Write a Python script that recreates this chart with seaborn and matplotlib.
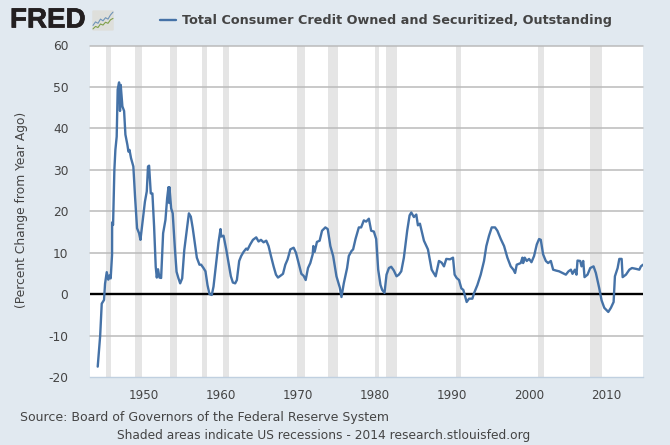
import matplotlib
matplotlib.use("Agg")
import matplotlib.pyplot as plt
import matplotlib.patheffects as pe
from matplotlib.patches import FancyBboxPatch
import pandas as pd
import seaborn as sns

years = [1944.08, 1944.4, 1944.6, 1944.9, 1945.03, 1945.25, 1945.45, 1945.6, 1945.76, 1945.94, 1945.95, 1946.07,
         1946.24, 1946.37, 1946.54, 1946.67, 1946.85, 1946.97, 1947.06, 1947.28, 1947.5, 1947.67, 1947.93, 1948.06,
         1948.2, 1948.4, 1948.7, 1948.92, 1949.18, 1949.44, 1949.62, 1949.92, 1950.2, 1950.44, 1950.6, 1950.74,
         1950.96, 1951.17, 1951.39, 1951.6, 1951.74, 1951.9, 1952.08, 1952.3, 1952.56, 1952.86, 1953.08, 1953.25,
         1953.34, 1953.38, 1953.6, 1953.8, 1954.1, 1954.3, 1954.55, 1954.77, 1955.03, 1955.3, 1955.63, 1955.9,
         1956.15, 1956.4, 1956.7, 1956.93, 1957.27, 1957.49, 1957.79, 1958.05, 1958.31, 1958.57, 1958.87, 1959.09,
         1959.44, 1959.74, 1960.0, 1960.09, 1960.39, 1960.74, 1961.04, 1961.34, 1961.6, 1961.9, 1962.12, 1962.42,
         1962.68, 1962.99, 1963.33, 1963.5, 1963.85, 1964.2, 1964.63, 1964.93, 1965.24, 1965.58, 1965.93, 1966.23,
         1966.54, 1966.88, 1967.19, 1967.45, 1967.75, 1968.1, 1968.4, 1968.7, 1969.05, 1969.48, 1969.78, 1970.13,
         1970.48, 1970.78, 1971.04, 1971.34, 1971.64, 1971.95, 1972.03, 1972.2, 1972.5, 1972.85, 1973.16, 1973.59,
         1973.9, 1974.24, 1974.6, 1975.03, 1975.46, 1975.68, 1975.98, 1976.41, 1976.63, 1976.98, 1977.19, 1977.5,
         1977.93, 1978.23, 1978.58, 1978.88, 1979.23, 1979.53, 1979.88, 1980.18, 1980.44, 1980.74, 1980.96, 1981.26,
         1981.52, 1981.83, 1982.13, 1982.47, 1982.82, 1983.12, 1983.43, 1983.77, 1984.2, 1984.51, 1984.73, 1985.07,
         1985.38, 1985.59, 1985.85, 1986.37, 1986.89, 1987.37, 1987.89, 1988.32, 1988.67, 1988.97, 1989.27, 1989.75,
         1990.14, 1990.35, 1990.61, 1990.92, 1991.22, 1991.48, 1991.91, 1992.22, 1992.65, 1992.86, 1993.3, 1993.73,
         1994.16, 1994.46, 1994.81, 1995.16, 1995.59, 1995.89, 1996.33, 1996.76, 1997.19, 1997.62, 1997.97, 1998.19,
         1998.4, 1998.92, 1999.14, 1999.23, 1999.44, 1999.7, 2000.0, 2000.31, 2000.65, 2001.0, 2001.3, 2001.52,
         2001.82, 2002.17, 2002.47, 2002.82, 2003.12, 2003.47, 2003.9, 2004.33, 2004.77, 2005.11, 2005.42, 2005.63,
         2005.94, 2006.15, 2006.28, 2006.63, 2006.8, 2007.02, 2007.19, 2007.58, 2007.93, 2008.36, 2008.66, 2009.1,
         2009.4, 2009.75, 2010.27, 2010.61, 2010.96, 2011.13, 2011.48, 2011.7, 2012.0, 2012.13, 2012.56, 2013.0,
         2013.34, 2013.86, 2014.29, 2014.5, 2014.77]
pct_change = [-17.5, -10, -2.3, -1.4, 2.5, 5.3, 3.5, 4.5, 3.8, 9.5, 17.3, 16.7,
              30, 34.8, 38, 49.4, 51.1, 44.2, 50.5, 45.3, 44.2, 38.5, 36, 34.4,
              34.8, 32.8, 30.8, 23.5, 15.9, 14.7, 13.1, 17.9, 22.3, 24.8, 30.8, 31,
              24.3, 24.3, 16.3, 6.6, 4, 6, 4, 3.9, 14.7, 17.9, 23.1, 25.8,
              22, 25.8, 20.7, 19.5, 10.6, 5.4, 3.8, 2.6, 3.8, 10.6, 15.5, 19.5,
              18.7, 15.9, 11.8, 8.8, 7.1, 7.1, 6.3, 5.5, 2.2, 0, -0.2, 1.8,
              7.5, 12.5, 15.7, 13.9, 14.1, 10.8, 7.5, 4.3, 2.8, 2.6, 3.4, 8,
              9.2, 10.2, 11, 10.7, 12, 13.1, 13.7, 12.7, 13.1, 12.5, 12.9, 11.6,
              9.2, 6.7, 4.7, 4, 4.4, 4.9, 7.1, 8.4, 10.8, 11.2, 10, 7.5,
              4.9, 4.4, 3.4, 6.3, 7.5, 9.6, 11.6, 10.2, 12.6, 12.9, 15.3, 16.1,
              15.7, 11.6, 9.2, 4.3, 1.6, -0.7, 2.6, 6.3, 9.2, 10.4, 10.8, 13.3,
              16.1, 16.1, 17.8, 17.5, 18.2, 15.3, 15.1, 13.3, 5.9, 2.2, 1, 0.3,
              4.7, 6.3, 6.6, 5.7, 4.3, 4.7, 5.5, 8.8, 15.3, 19, 19.7, 18.6,
              19.2, 16.6, 17, 12.9, 10.8, 5.9, 4.3, 8, 7.6, 6.7, 8.5, 8.4,
              8.8, 4.7, 3.9, 3.4, 1.4, 1, -1.9, -1.1, -1.1, 0.2, 2.2, 4.7,
              8, 11.6, 14.1, 16.1, 16.1, 15.3, 13.3, 11.6, 8.8, 6.7, 5.9, 5.1,
              7.1, 7.5, 8.8, 7.5, 8.8, 8, 8.5, 7.7, 9.2, 12, 13.3, 13.1,
              9.6, 8, 7.5, 8, 5.9, 5.7, 5.5, 5.1, 4.7, 5.5, 5.9, 4.9,
              5.9, 4.7, 8.1, 8, 6.7, 8, 4.1, 4.7, 6.3, 6.7, 5.1, 1.4,
              -1.5, -3.3, -4.3, -3.3, -1.9, 4.3, 6.3, 8.5, 8.5, 4.1, 4.7, 5.9,
              6.3, 6.1, 5.9, 6.7, 7.1]

rec_start = [1945.1, 1948.85, 1953.5, 1957.65, 1960.3, 1969.9, 1973.9, 1980.0, 1981.5, 1990.5, 2001.2, 2007.9]
rec_end = [1945.8, 1949.83, 1954.4, 1958.3, 1961.1, 1970.9, 1975.2, 1980.5, 1982.9, 1991.2, 2001.9, 2009.5]

x_ticks = [1950, 1960, 1970, 1980, 1990, 2000, 2010]
y_ticks = [-20, -10, 0, 10, 20, 30, 40, 50, 60]
series_name = "Total Consumer Credit Owned and Securitized, Outstanding"

# logo sparkline
icon_x = [0, 1, 2, 3, 4, 5, 6, 7, 8]
icon_blue = [1.6, 2.6, 2.2, 3.4, 2.9, 3.8, 3.4, 4.6, 5.4]
icon_green = [0.6, 1.3, 1.0, 2.0, 1.7, 2.5, 2.2, 3.2, 3.6]

bg = "#E1E9F0"
line_color = "#4572A7"
text_color = "#444444"

sns.set_theme(style="white")
plt.rcParams["font.family"] = ["DejaVu Sans"]
plt.rcParams["axes.unicode_minus"] = False

W, H = 670, 445
fig = plt.figure(figsize=(W / 100, H / 100), dpi=100, facecolor=bg)
ax = fig.add_axes([90 / W, 1 - 377 / H, 553 / W, 331.5 / H])
ax.set_facecolor("white")

for a, b in zip(rec_start, rec_end):
    ax.axvspan(a, b, color="#E5E5E5", lw=0, zorder=1)

for v in y_ticks:
    if v not in (0, -20):
        ax.axhline(v, color="#BBBBBB", lw=1.1, zorder=2, clip_on=False)
ax.axhline(0, color="black", lw=1.7, zorder=2)

df = pd.DataFrame({"year": years, "pct": pct_change})
sns.lineplot(data=df, x="year", y="pct", color=line_color, lw=1.7, sort=False,
             estimator=None, label=series_name, ax=ax, zorder=3)

ax.set_xlim(1943.08, 2014.77)
ax.set_ylim(-20, 60)
ax.set_xticks(x_ticks)
ax.set_yticks(y_ticks)
ax.tick_params(axis="x", length=6, width=1, color="#C0D0E0", labelcolor=text_color, labelsize=8.6, pad=2.5)
ax.tick_params(axis="y", length=0, labelcolor=text_color, labelsize=8.8, pad=15.5)
for s in ["top", "left", "right"]:
    ax.spines[s].set_visible(False)
ax.spines["bottom"].set_color("#C0D0E0")
ax.spines["bottom"].set_linewidth(1)
ax.set_xlabel("")
ax.set_ylabel("(Percent Change from Year Ago)", color=text_color, fontsize=8.85)
ax.yaxis.set_label_coords(28.5 / W, 1 - 210 / H, transform=fig.transFigure)

leg = ax.legend(loc="center left", bbox_to_anchor=(160 / W, 1 - 20.5 / H), bbox_transform=fig.transFigure,
                frameon=False, handlelength=1.24, handletextpad=0.47, borderpad=0, borderaxespad=0,
                prop={"weight": "bold", "size": 9.22})
leg.get_texts()[0].set_color(text_color)

fig.text(20 / W, 1 - 417 / H, "Source: Board of Governors of the Federal Reserve System",
         color=text_color, fontsize=9.0, va="center", ha="left")
fig.text(117 / W, 1 - 435.5 / H, "Shaded areas indicate US recessions - 2014 research.stlouisfed.org",
         color=text_color, fontsize=8.84, va="center", ha="left")

# logo
logo = fig.text(10 / W, 1 - 20.5 / H, "FRED", color="#231F20", fontsize=20, fontweight="bold",
                family="Liberation Sans", va="center", ha="left")
logo.set_path_effects([pe.withStroke(linewidth=0.5, foreground="#231F20")])
icon = fig.add_axes([92 / W, 1 - 31 / H, 22 / W, 21 / H])
icon.axis("off")
icon.set_xlim(-0.4, 8.4)
icon.set_ylim(0, 6)
icon.add_patch(FancyBboxPatch((-0.3, 0.1), 8.6, 5.8, boxstyle="round,pad=0,rounding_size=0.4",
                              fc="#DEDFDB", ec="none"))
sns.lineplot(x=icon_x, y=icon_blue, color="#6F94B8", lw=0.8, ax=icon, estimator=None)
sns.lineplot(x=icon_x, y=icon_green, color="#7FA04A", lw=0.8, ax=icon, estimator=None)

fig.savefig("out.png", dpi=100, facecolor=bg)
